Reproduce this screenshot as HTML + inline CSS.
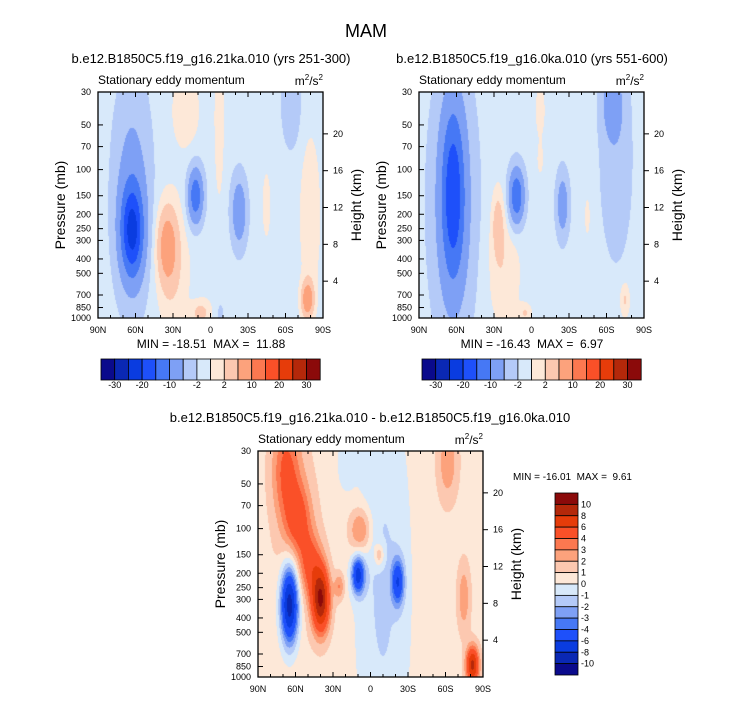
<!DOCTYPE html>
<html><head><meta charset="utf-8">
<style>
body{margin:0;background:#fff;}
#root{position:relative;width:733px;height:701px;overflow:hidden;font-family:"Liberation Sans",sans-serif;color:#000;}
canvas{position:absolute;}
svg{position:absolute;left:0;top:0;}
text{white-space:pre;}
</style></head>
<body>
<div id="root">
<canvas id="c1" width="225" height="226" style="left:98px;top:92px"></canvas>
<canvas id="c2" width="225" height="226" style="left:419px;top:92px"></canvas>
<canvas id="c3" width="225" height="226" style="left:258px;top:451px"></canvas>
<svg id="ov" width="733" height="701"></svg>
</div>
<script>
const palette = ['#0a0a8c','#0a28b4','#0a3ce0','#1e50fa','#4678f5','#7ea0f5','#b4caf8','#d8e9fa','#fde8d8','#fcc8b0','#fca27c','#fc7850','#fa5028','#e63c0a','#b4280a','#8b0a0a'];
const levelsAbs = [-30,-25,-20,-15,-10,-5,-2,0,2,5,10,15,20,25,30];
const levelsDiff = [-10,-8,-6,-4,-3,-2,-1,0,1,2,3,4,6,8,10];
const cbLabelsAbs = ['-30','-20','-10','-2','2','10','20','30'];
const cbLabelsDiff = ['10','8','6','4','3','2','1','0','-1','-2','-3','-4','-6','-8','-10'];
const pressTicks = [30,50,70,100,150,200,250,300,400,500,700,850,1000];
const heightTicks = [4,8,12,16,20];
const latTicks = ['90N','60N','30N','0','30S','60S','90S'];

// Panel 1 features (lat deg, level fraction 0=30mb 1=1000mb, amplitude, widths)
const p1Base = -1;
const p1Lat  = [63, 63, 12, -23, 35, 30, -78, 8, -7, -65, 20, -45, -80, -8, 0];
const p1Lev  = [0.62,0.45,0.46,0.53,0.68,0.78,0.92,0.98,0.12,0.05,0.08,0.5,0.55,0.98,0.8];
const p1Amp  = [-17,-6,-13,-8,7,2.8,9,4,2.4,-3,2.6,1.8,2.8,-2,0.8];
const p1WLat = [9,14,6,6,8,13,5,7,4,8,11,4,8,3,10];
const p1WLev = [0.2,0.45,0.12,0.15,0.17,0.3,0.08,0.05,0.35,0.2,0.17,0.18,0.35,0.05,0.2];

// Panel 2
const p2Base = -1;
const p2Lat  = [63, 63, 12, -25, -65, -68, 27, 22, -7, -75, 5, -45, -7];
const p2Lev  = [0.45,0.5,0.46,0.5,0.05,0.3,0.58,0.8,0.08,0.92,0.98,0.55,0.3];
const p2Amp  = [-13,-6,-14,-7,-6,-2.8,4,2.6,2.2,3.5,3,1.6,1.6];
const p2WLat = [9,17,6,5,8,13,5,13,4,4,5,3,3];
const p2WLev = [0.38,0.55,0.12,0.14,0.15,0.45,0.15,0.25,0.12,0.08,0.04,0.12,0.08];

// Panel 3 (difference)
const p3Base = 0.6;
const p3Lat  = [-10, 68, 58, 48, 40, 65, 10, -22, 8, -7, 25, -62, -75, -82, 20, 60];
const p3Lev  = [0.6,0.08,0.3,0.5,0.66,0.68,0.55,0.58,0.35,0.46,0.6,0.05,0.65,0.95,0.05,0.35];
const p3Amp  = [-1.8,3.4,3.2,3.4,9.5,-10,-7,-5.5,3.2,2.5,2.5,2.2,2.2,8,-1.2,1.2];
const p3WLat = [22,11,10,9,7,7,5,5,9,4,4,8,5,5,7,16];
const p3WLev = [0.9,0.22,0.15,0.14,0.14,0.17,0.08,0.1,0.1,0.05,0.06,0.17,0.15,0.08,0.12,0.4];

function hex(c){return [parseInt(c.substr(1,2),16),parseInt(c.substr(3,2),16),parseInt(c.substr(5,2),16)];}
const rgb = palette.map(hex);
function drawField(id, base, lat, lev, amp, wl, wz, levels){
  const cv=document.getElementById(id), ctx=cv.getContext('2d');
  const W=cv.width,H=cv.height,img=ctx.createImageData(W,H);
  for(let y=0;y<H;y++){const f=y/(H-1);
    for(let x=0;x<W;x++){const la=90-180*x/(W-1);
      let v=base;
      for(let k=0;k<lat.length;k++){const dx=(la-lat[k])/wl[k],dz=(f-lev[k])/wz[k];v+=amp[k]*Math.exp(-dx*dx-dz*dz);}
      let i=0;while(i<levels.length&&v>=levels[i])i++;
      const c=rgb[i],o=(y*W+x)*4;img.data[o]=c[0];img.data[o+1]=c[1];img.data[o+2]=c[2];img.data[o+3]=255;}}
  ctx.putImageData(img,0,0);
}
drawField('c1',p1Base,p1Lat,p1Lev,p1Amp,p1WLat,p1WLev,levelsAbs);
drawField('c2',p2Base,p2Lat,p2Lev,p2Amp,p2WLat,p2WLev,levelsAbs);
drawField('c3',p3Base,p3Lat,p3Lev,p3Amp,p3WLat,p3WLev,levelsDiff);

const NS='http://www.w3.org/2000/svg', ov=document.getElementById('ov');
function el(tag,attrs,parent){const e=document.createElementNS(NS,tag);for(const k in attrs)e.setAttribute(k,attrs[k]);(parent||ov).appendChild(e);return e;}
function txt(x,y,s,size,anchor,name,extra){const t=el('text',Object.assign({x:x,y:y,'font-size':size,'text-anchor':anchor||'middle'},extra||{}));t.textContent=s;
  
  
  return t;}
const pY=(p,y0,H)=>y0+(Math.log(p)-Math.log(30))/(Math.log(1000)-Math.log(30))*H;

function axes(x0,y0,pre){
  const W=225,H=226;
  const g=el('g',{});
  
  
  el('rect',{x:x0,y:y0,width:W,height:H,fill:'none',stroke:'#000','stroke-width':1.3},g);
  for(let i=0;i<=18;i++){const x=x0+W*i/18,len=(i%3==0)?5:3;
    el('line',{x1:x,y1:y0+H,x2:x,y2:y0+H-len,stroke:'#000'},g);
    el('line',{x1:x,y1:y0,x2:x,y2:y0+len,stroke:'#000'},g);}
  latTicks.forEach((s,i)=>txt(x0+W*i/6,y0+H+15,s,9,'middle',pre+'-lat-tick'));
  pressTicks.forEach(p=>{const y=pY(p,y0,H);el('line',{x1:x0,y1:y,x2:x0+5,y2:y,stroke:'#000'},g);
    txt(x0-7,y+3,String(p),9,'end',pre+'-pressure-tick');});
  heightTicks.forEach(z=>{const p=1000*Math.exp(-z/7),y=pY(p,y0,H);el('line',{x1:x0+W,y1:y,x2:x0+W+5,y2:y,stroke:'#000'},g);
    txt(x0+W+10,y+3,String(z),9,'start',pre+'-height-tick');});
  const px=x0-38;
  txt(px,y0+H/2+5,'Pressure (mb)',14,'middle',pre+'-y-axis-title',{transform:`rotate(-90 ${px} ${y0+H/2})`});
  const hx=x0+W+33;
  txt(hx,y0+H/2+5,'Height (km)',14,'middle',pre+'-height-axis-title',{transform:`rotate(-90 ${hx} ${y0+H/2})`});
  txt(x0,y0-8,'Stationary eddy momentum',12,'start',pre+'-subtitle');
  const u=txt(x0+W,y0-7,'',12,'end',pre+'-units');
  u.innerHTML='m<tspan font-size="8" dy="-5">2</tspan><tspan dy="5">/s</tspan><tspan font-size="8" dy="-5">2</tspan>';
}
function hbar(x0,y0,pre){
  const w=13.7;
  for(let i=0;i<16;i++){const r=el('rect',{x:x0+i*w,y:y0,width:w,height:21,fill:palette[i],stroke:'#000','stroke-width':0.8});
    
    }
  cbLabelsAbs.forEach((s,i)=>txt(x0+w*(1+2*i),y0+29,s,9,'middle',pre+'-colorbar-label'));
}
txt(366,37,'MAM',18,'middle','figure-title');
txt(211,63,'b.e12.B1850C5.f19_g16.21ka.010 (yrs 251-300)',13,'middle','panel1-title');
txt(532,63,'b.e12.B1850C5.f19_g16.0ka.010 (yrs 551-600)',13,'middle','panel2-title');
txt(370,422,'b.e12.B1850C5.f19_g16.21ka.010 - b.e12.B1850C5.f19_g16.0ka.010',13,'middle','panel3-title');
axes(98,92,'panel1');axes(419,92,'panel2');axes(258,451,'panel3');
txt(211,348,'MIN = -18.51  MAX =  11.88',12,'middle','panel1-minmax');
txt(532,348,'MIN = -16.43  MAX =  6.97',12,'middle','panel2-minmax');
txt(513,480,'MIN = -16.01  MAX =  9.61',10,'start','panel3-minmax');
hbar(101,359,'panel1');hbar(422,359,'panel2');
const vh=182/16;
for(let i=0;i<16;i++){const r=el('rect',{x:555,y:493+i*vh,width:23,height:vh,fill:palette[15-i],stroke:'#000','stroke-width':0.8});
  
  }
cbLabelsDiff.forEach((s,i)=>txt(581,493+vh*(i+1)+3,s,9,'start','panel3-colorbar-label'));
</script>
</body></html>
